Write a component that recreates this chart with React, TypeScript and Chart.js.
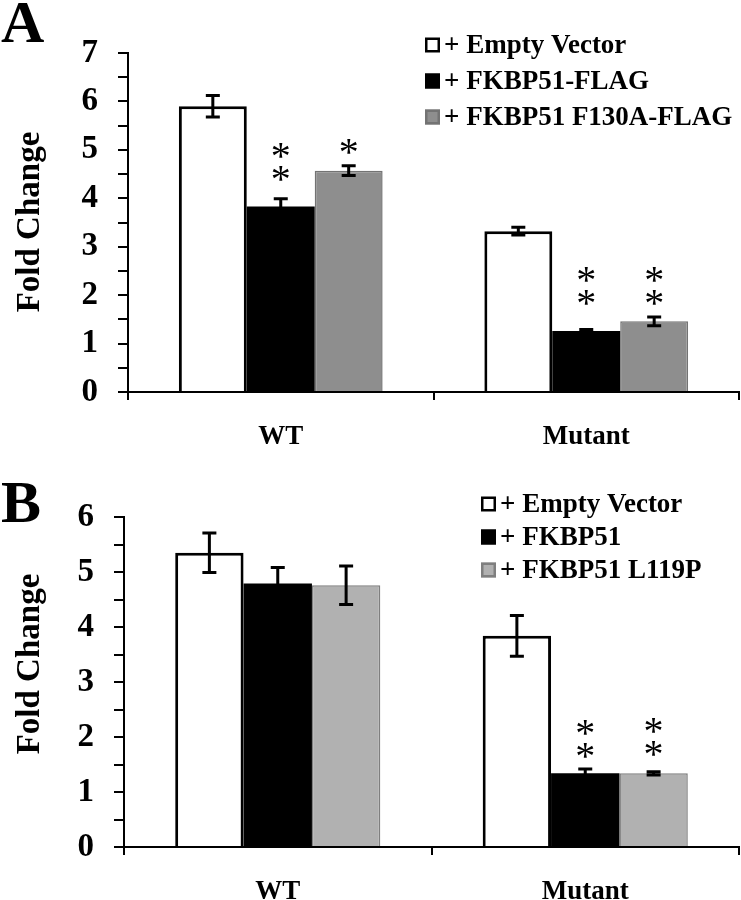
import React, { useEffect, useRef } from "react";
import { Chart, registerables } from "chart.js";

Chart.register(...registerables);

// ---------- shared ----------
const categories = ["WT", "Mutant"];

// ---------- Panel A ----------
const seriesLabelsA = ["+ Empty Vector", "+ FKBP51-FLAG", "+ FKBP51 F130A-FLAG"];
const emptyA = [5.9, 3.32];
const fkbpFlagA = [3.83, 1.26];
const f130aA = [4.57, 1.46];
const emptyErrA = [0.22, 0.08];
const fkbpFlagErrA = [0.16, 0.03];
const f130aErrA = [0.1, 0.09];
const yTickLabelsA = ["0", "1", "2", "3", "4", "5", "6", "7"];
const starSeriesA = [1, 2, 1, 2];
const starCatA = [0, 0, 1, 1];
const starCountA = [2, 1, 2, 2];
const starLevelA = [4.52, 5.06, 1.96, 1.96];

// ---------- Panel B ----------
const seriesLabelsB = ["+ Empty Vector", "+ FKBP51", "+ FKBP51 L119P"];
const emptyB = [5.35, 3.84];
const fkbpB = [4.79, 1.34];
const l119pB = [4.76, 1.34];
const emptyErrB = [0.36, 0.37];
const fkbpErrB = [0.29, 0.08];
const l119pErrB = [0.35, 0.03];
const yTickLabelsB = ["0", "1", "2", "3", "4", "5", "6"];
const starSeriesB = [1, 2];
const starCatB = [1, 1];
const starCountB = [2, 2];
const starLevelB = [1.76, 1.8];

const SERIF = "'Liberation Serif', 'Times New Roman', serif";

type PanelCfg = {
  letter: string;
  letterBaseline: number;
  labels: string[];
  values: number[][];
  errors: number[][];
  fills: string[];
  borders: string[];
  borderWidths: number[];
  yMax: number;
  yTickLabels: string[];
  starSeries: number[];
  starCat: number[];
  starCount: number[];
  starLevel: number[];
  legendX: number;
  legendY: number;
  legendStep: number;
  titleY: number;
  padTop: number;
  yWidth: number;
  xHeight: number;
};

function makeOverlay(cfg: PanelCfg) {
  return {
    id: "overlay",
    afterDatasetsDraw(chart: any) {
      const ctx = chart.ctx as CanvasRenderingContext2D;
      const yScale = chart.scales.y;
      ctx.save();
      // error bars
      ctx.strokeStyle = "#000";
      ctx.lineWidth = 3;
      cfg.values.forEach((vals, i) => {
        const meta = chart.getDatasetMeta(i);
        vals.forEach((v, j) => {
          const el = meta.data[j];
          const e = cfg.errors[i][j];
          const yt = yScale.getPixelForValue(v + e);
          const yb = yScale.getPixelForValue(v - e);
          const x = el.x;
          ctx.beginPath();
          ctx.moveTo(x, yt);
          ctx.lineTo(x, yb);
          ctx.moveTo(x - 7, yt);
          ctx.lineTo(x + 7, yt);
          ctx.moveTo(x - 7, yb);
          ctx.lineTo(x + 7, yb);
          ctx.stroke();
        });
      });
      // asterisks
      ctx.fillStyle = "#000";
      ctx.font = `40px ${SERIF}`;
      ctx.textAlign = "center";
      ctx.textBaseline = "alphabetic";
      const m = ctx.measureText("*");
      const off = (m.actualBoundingBoxAscent - m.actualBoundingBoxDescent) / 2;
      cfg.starSeries.forEach((s, k) => {
        const el = chart.getDatasetMeta(s).data[cfg.starCat[k]];
        const base = yScale.getPixelForValue(cfg.starLevel[k]);
        for (let n = 0; n < cfg.starCount[k]; n++) {
          const cy = base - n * 23;
          ctx.fillText("*", el.x, cy + off);
        }
      });
      // legend
      ctx.textAlign = "left";
      ctx.textBaseline = "middle";
      ctx.font = `bold 27px ${SERIF}`;
      cfg.labels.forEach((lab, i) => {
        const cy = cfg.legendY + i * cfg.legendStep;
        const bx = cfg.legendX;
        ctx.fillStyle = cfg.fills[i];
        ctx.fillRect(bx, cy - 7.5, 15, 15);
        ctx.strokeStyle = cfg.borders[i];
        ctx.lineWidth = 2.5;
        ctx.strokeRect(bx + 1.25, cy - 6.25, 12.5, 12.5);
        ctx.fillStyle = "#000";
        ctx.fillText(lab, bx + 19, cy + 1);
      });
      // y title
      ctx.save();
      ctx.translate(39, cfg.titleY);
      ctx.rotate(-Math.PI / 2);
      ctx.textAlign = "center";
      ctx.textBaseline = "alphabetic";
      ctx.font = `bold 33px ${SERIF}`;
      ctx.fillText("Fold Change", 0, 0);
      ctx.restore();
      // panel letter
      ctx.textAlign = "left";
      ctx.textBaseline = "alphabetic";
      ctx.font = `bold 60px ${SERIF}`;
      ctx.fillText(cfg.letter, 1, cfg.letterBaseline);
      ctx.restore();
    },
  };
}

function Panel({ cfg }: { cfg: PanelCfg }) {
  const ref = useRef<HTMLCanvasElement>(null);
  useEffect(() => {
    if (!ref.current) return;
    const chart = new Chart(ref.current, {
      type: "bar",
      data: {
        labels: categories,
        datasets: cfg.values.map((vals, i) => ({
          label: cfg.labels[i],
          data: vals,
          backgroundColor: cfg.fills[i],
          borderColor: cfg.borders[i],
          borderWidth: cfg.borderWidths[i],
          categoryPercentage: 0.667,
          barPercentage: 1.0,
        })),
      },
      options: {
        responsive: false,
        animation: false,
        devicePixelRatio: 1,
        layout: { padding: { top: cfg.padTop, right: 2, left: 0, bottom: 0 } },
        plugins: { legend: { display: false }, tooltip: { enabled: false } },
        scales: {
          x: {
            afterFit: (s: any) => {
              s.height = cfg.xHeight;
            },
            grid: {
              display: true,
              offset: true,
              drawOnChartArea: false,
              drawTicks: true,
              tickLength: 8,
              color: "#000",
              lineWidth: 2,
            },
            border: { display: true, color: "#000", width: 2 },
            ticks: {
              color: "#000",
              padding: 21,
              font: { family: SERIF, size: 27, weight: "bold" },
            },
          },
          y: {
            min: 0,
            max: cfg.yMax,
            afterFit: (s: any) => {
              s.width = cfg.yWidth;
            },
            grid: {
              display: true,
              drawOnChartArea: false,
              drawTicks: true,
              tickLength: 10,
              color: "#000",
              lineWidth: 2,
            },
            border: { display: true, color: "#000", width: 2 },
            ticks: {
              stepSize: 0.5,
              autoSkip: false,
              color: "#000",
              padding: 20,
              font: { family: SERIF, size: 33, weight: "bold" },
              callback: (v: any) =>
                Number.isInteger(v) ? cfg.yTickLabels[v] : "",
            },
          },
        },
      },
      plugins: [makeOverlay(cfg)],
    } as any);
    return () => chart.destroy();
  }, [cfg]);
  return <canvas ref={ref} width={741} height={450} style={{ display: "block" }} />;
}

const cfgA: PanelCfg = {
  letter: "A",
  letterBaseline: 42,
  labels: seriesLabelsA,
  values: [emptyA, fkbpFlagA, f130aA],
  errors: [emptyErrA, fkbpFlagErrA, f130aErrA],
  fills: ["#ffffff", "#000000", "#8e8e8e"],
  borders: ["#000000", "#000000", "#737373"],
  borderWidths: [3, 0, 1.5],
  yMax: 7,
  yTickLabels: yTickLabelsA,
  starSeries: starSeriesA,
  starCat: starCatA,
  starCount: starCountA,
  starLevel: starLevelA,
  legendX: 425,
  legendY: 45,
  legendStep: 36,
  titleY: 222,
  padTop: 53,
  yWidth: 128,
  xHeight: 58,
};

const cfgB: PanelCfg = {
  letter: "B",
  letterBaseline: 72,
  labels: seriesLabelsB,
  values: [emptyB, fkbpB, l119pB],
  errors: [emptyErrB, fkbpErrB, l119pErrB],
  fills: ["#ffffff", "#000000", "#b1b1b1"],
  borders: ["#000000", "#000000", "#7f7f7f"],
  borderWidths: [3, 0, 1.5],
  yMax: 6,
  yTickLabels: yTickLabelsB,
  starSeries: starSeriesB,
  starCat: starCatB,
  starCount: starCountB,
  starLevel: starLevelB,
  legendX: 481,
  legendY: 54,
  legendStep: 33,
  titleY: 214,
  padTop: 67,
  yWidth: 124,
  xHeight: 53,
};

export default function App() {
  return (
    <div
      style={{
        position: "absolute",
        left: 0,
        top: 0,
        width: 741,
        height: 900,
        background: "#fff",
        overflow: "hidden",
      }}
    >
      <Panel cfg={cfgA} />
      <Panel cfg={cfgB} />
    </div>
  );
}
